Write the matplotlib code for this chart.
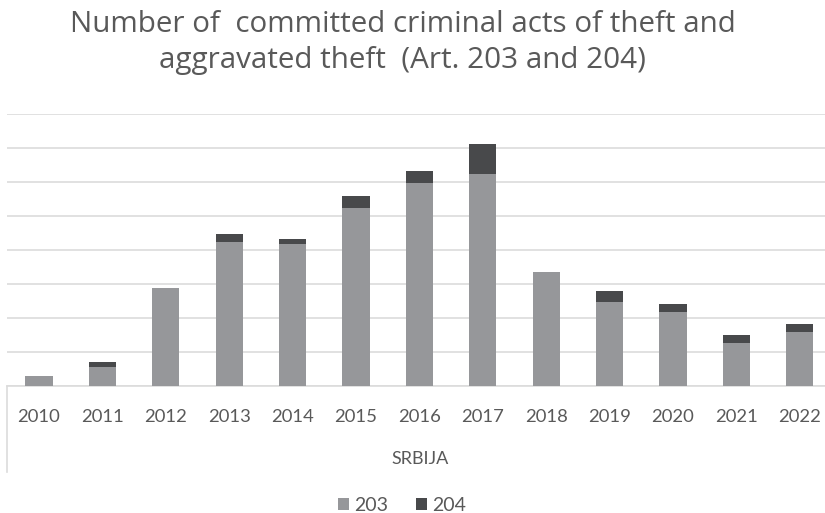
import matplotlib
matplotlib.use("Agg")
import matplotlib.pyplot as plt
from matplotlib.lines import Line2D
from matplotlib.patches import Patch

years = ["2010", "2011", "2012", "2013", "2014", "2015", "2016",
         "2017", "2018", "2019", "2020", "2021", "2022"]
art203 = [290, 540, 2870, 4230, 4180, 5250, 5980, 6250, 3360, 2470, 2170, 1260, 1580]
art204 = [0, 150, 0, 250, 140, 350, 340, 870, 0, 330, 240, 240, 240]
series_names = ["203", "204"]

C203 = "#96979A"
C204 = "#48494B"
TXT = "#595959"
GRID = "#DCDCDC"
FONT = ["Lato", "DejaVu Sans"]
TFONT = ["Open Sans", "DejaVu Sans"]

W, H = 825, 513
fig = plt.figure(figsize=(W / 100, H / 100), dpi=100)
fig.patch.set_facecolor("white")

left_px, right_px = 7.3, 831.5
base_px, top_px = 385.7, 114.3
ax = fig.add_axes([left_px / W, 1 - base_px / H, (right_px - left_px) / W, (base_px - top_px) / H])

x = list(range(len(years)))
ax.bar(x, art203, width=0.43, color=C203, zorder=3, label=series_names[0])
ax.bar(x, art204, width=0.43, bottom=art203, color=C204, zorder=3, label=series_names[1])

ax.set_xlim(-0.5, len(years) - 0.5)
ax.set_ylim(0, 8000)
ax.set_yticks(range(0, 8001, 1000))
ax.yaxis.grid(True, color=GRID, linewidth=1.2, zorder=0)
ax.tick_params(axis="y", left=False, labelleft=False)
for s in ["top", "right", "left"]:
    ax.spines[s].set_visible(False)
ax.spines["bottom"].set_color(GRID)
ax.spines["bottom"].set_linewidth(1.2)
ax.set_xticks(x)
ax.set_xticklabels(years, fontsize=13.3, color=TXT, family=FONT)
ax.tick_params(axis="x", length=0, pad=16.5)
ax.set_facecolor("white")

# category-axis left separator line
fig.add_artist(Line2D([6.7 / W, 6.7 / W], [1 - base_px / H, 1 - 471.7 / H],
                      color=GRID, linewidth=1.2))

fig.text(403 / W, 1 - 32.3 / H, "Number of  committed criminal acts of theft and",
         ha="center", va="baseline", fontsize=21.3, color=TXT, family=TFONT)
fig.text(402 / W, 1 - 68.3 / H, "aggravated theft  (Art. 203 and 204)",
         ha="center", va="baseline", fontsize=21.3, color=TXT, family=TFONT)

fig.text(420 / W, 1 - 459 / H, "SRBIJA", ha="center", va="center",
         fontsize=13, color=TXT, family=FONT)

handles = [Patch(facecolor=C203), Patch(facecolor=C204)]
leg = fig.legend(handles, series_names, loc="center", bbox_to_anchor=(402 / W, 1 - 505.5 / H),
                 ncol=2, frameon=False, handlelength=0.57, handleheight=0.57,
                 handletextpad=0.3, columnspacing=1.4,
                 prop={"family": FONT, "size": 14})
for t in leg.get_texts():
    t.set_color(TXT)

fig.savefig("out.png", dpi=100, facecolor="white")
